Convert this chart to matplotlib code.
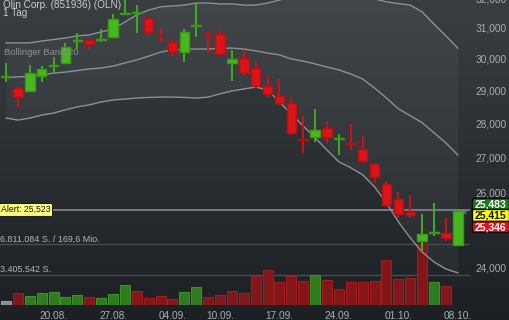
import numpy as np
import matplotlib
matplotlib.use("Agg")
import matplotlib.pyplot as plt
from matplotlib.patches import Rectangle
from matplotlib.ticker import NullLocator

plt.rcParams['font.family'] = ['Liberation Sans', 'DejaVu Sans']

# ---------------- data ----------------
dates = ["14.08.", "15.08.", "16.08.", "17.08.", "20.08.", "21.08.", "22.08.", "23.08.", "24.08.",
         "27.08.", "28.08.", "29.08.", "30.08.", "31.08.", "04.09.", "05.09.", "06.09.", "07.09.",
         "10.09.", "11.09.", "12.09.", "13.09.", "14.09.", "17.09.", "18.09.", "19.09.", "20.09.",
         "21.09.", "24.09.", "25.09.", "26.09.", "27.09.", "28.09.", "01.10.", "02.10.", "03.10.",
         "04.10.", "05.10.", "08.10."]
opens = [29.42, 29.07, 28.98, 29.45, 29.76, 29.86, 30.57, 30.60, 30.62, 30.70, 31.47, 31.50, 31.33,
         30.74, 30.54, 30.21, 31.07, 30.80, 30.80, 29.86, 30.02, 29.70, 29.14, 28.83, 28.61, 27.53,
         27.59, 27.86, 27.53, 27.41, 27.24, 26.80, 26.24, 25.82, 25.46, 24.68, 24.90, 24.90, 24.58]
highs = [29.86, 29.10, 29.80, 29.76, 30.05, 30.51, 30.84, 30.62, 30.97, 31.47, 32.00, 31.77, 31.34,
         31.03, 30.60, 30.97, 31.84, 30.87, 30.93, 30.28, 30.28, 29.92, 29.45, 29.35, 28.80, 28.22,
         28.43, 28.07, 27.68, 27.98, 27.62, 26.83, 26.32, 26.01, 25.93, 25.41, 25.71, 25.30, 25.52]
lows = [29.26, 28.49, 28.96, 29.26, 29.51, 29.84, 30.31, 30.31, 30.54, 30.68, 31.44, 30.84, 30.77,
        30.54, 30.08, 29.89, 30.70, 30.18, 30.13, 29.29, 29.45, 29.07, 28.76, 28.55, 27.65, 27.12,
        27.44, 27.41, 27.06, 27.21, 26.83, 26.26, 25.60, 25.30, 25.30, 24.39, 24.81, 24.68, 24.55]
closes = [29.45, 28.80, 29.54, 29.67, 29.80, 30.38, 30.60, 30.47, 30.64, 31.30, 31.50, 31.52, 30.87,
          30.72, 30.21, 30.87, 31.10, 30.77, 30.15, 29.99, 29.54, 29.14, 28.89, 28.61, 27.71, 27.50,
          27.80, 27.59, 27.56, 27.38, 26.89, 26.43, 25.65, 25.40, 25.38, 24.87, 24.92, 24.76, 25.483]
volumes = [480000, 1310000, 1000000, 1370000, 1420000, 930000, 1080000, 860000, 780000, 1260000,
           2200000, 1600000, 820000, 1000000, 670000, 1420000, 2040000, 860000, 1120000, 1560000,
           1370000, 3270000, 3900000, 2570000, 3240000, 2680000, 3380000, 2790000, 1790000, 2600000,
           2530000, 2680000, 5020000, 2870000, 2980000, 6811084, 2530000, 2120000]
volume_dir = ["n", "r", "g", "g", "g", "g", "g", "r", "g", "g", "g", "r", "r", "r", "r", "g", "g",
              "r", "r", "r", "r", "r", "r", "r", "r", "r", "g", "r", "r", "r", "r", "r", "r", "r",
              "r", "r", "g", "r"]
bb_upper = [30.51, 30.51, 30.51, 30.57, 30.62, 30.67, 30.74, 30.77, 30.87, 30.97, 31.20, 31.44,
            31.60, 31.71, 31.74, 31.77, 31.84, 31.84, 31.81, 31.81, 31.77, 31.77, 31.84, 31.94,
            32.08, 32.15, 32.19, 32.19, 32.15, 32.12, 32.05, 31.98, 31.88, 31.82, 31.77, 31.54,
            31.13, 30.74, 30.34]
bb_middle = [29.39, 29.42, 29.43, 29.48, 29.54, 29.57, 29.62, 29.67, 29.70, 29.76, 29.86, 29.96,
             30.08, 30.21, 30.28, 30.30, 30.31, 30.31, 30.33, 30.34, 30.31, 30.25, 30.18, 30.12,
             29.99, 29.92, 29.83, 29.73, 29.64, 29.51, 29.35, 29.07, 28.76, 28.43, 28.22, 28.01,
             27.71, 27.41, 27.06]
bb_lower = [28.15, 28.09, 28.15, 28.24, 28.30, 28.40, 28.49, 28.55, 28.64, 28.70, 28.73, 28.76,
            28.78, 28.79, 28.79, 28.78, 28.76, 28.79, 28.89, 28.98, 29.04, 29.10, 29.01, 28.64,
            28.27, 27.91, 27.56, 27.20, 26.86, 26.69, 26.49, 26.15, 25.70, 25.19, 24.76, 24.39,
            24.13, 23.95, 23.85]
date_ticks = ["20.08.", "27.08.", "04.09.", "10.09.", "17.09.", "24.09.", "01.10.", "08.10."]
price_ticks = [24, 26, 27, 28, 29, 30, 31, 32]
alert_level = 25.523
quotes = [25.483, 25.415, 25.346]
vol_max = 6811084
vol_max_text = "6.811.084 S. / 169,6 Mio."
vol_half_text = "3.405.542 S."
title = "Olin Corp. (851936) (OLN)"
period = "1 Tag"
indicator = "Bollinger Band 20"

# ---------------- layout ----------------
W, H = 510, 320
fig = plt.figure(figsize=(W / 100, H / 100), dpi=100)

def prect(x0, y0, x1, y1):
    return [x0 / W, 1 - y1 / H, (x1 - x0) / W, (y1 - y0) / H]

# background gradient
bg = fig.add_axes([0, 0, 1, 1], zorder=0)
bg.set_axis_off()
g = np.linspace(0, 1, 256)[:, None, None]
top = np.array([0x39, 0x3e, 0x42]) / 255
bot = np.array([0x1c, 0x20, 0x24]) / 255
bg.imshow(top + (bot - top) * g, extent=(0, 1, 0, 1), aspect='auto', origin='upper')
bg.set_xlim(0, 1); bg.set_ylim(0, 1)

AX = prect(0, -10, 470, 305)
x = np.arange(len(dates))
xlim = (-6 / 11.89, (470 - 6) / 11.89)
ylim = (23.044, 32.287)

# band fill layer
axb = fig.add_axes(AX, zorder=1)
axb.set_yscale('log')
axb.fill_between(x, bb_lower, bb_upper, color='white', alpha=0.045, lw=0)
axb.set_xlim(*xlim); axb.set_ylim(*ylim)
axb.set_axis_off()

# volume layer
axv = fig.add_axes(AX, zorder=2)
axv.set_facecolor('none')
vfill = {'g': '#2e7b1d', 'r': '#821619', 'n': '#8a8a8a'}
vedge = {'g': '#3c9028', 'r': '#a01c1f', 'n': '#9c9c9c'}
vx = x[:len(volumes)]
axv.bar(vx, volumes, width=0.84, color=[vfill[d] for d in volume_dir],
        edgecolor=[vedge[d] for d in volume_dir], linewidth=0.8)
axv.axhline(vol_max, color='#474c50', lw=1.0, zorder=0)
axv.axhline(vol_max / 2, color='#474c50', lw=1.0, zorder=0)
axv.text(xlim[0], vol_max, vol_max_text, color='#b4b8bb', fontsize=6.4, va='bottom', ha='left')
axv.text(xlim[0], vol_max / 2, vol_half_text, color='#b4b8bb', fontsize=6.4, va='bottom', ha='left')
axv.set_xlim(*xlim)
axv.set_ylim(0, vol_max * 315 / 61)
axv.set_axis_off()

# price layer
ax = fig.add_axes(AX, zorder=3)
ax.set_facecolor('none')
ax.set_yscale('log')
o = np.array(opens); c = np.array(closes); hi = np.array(highs); lo = np.array(lows)
up = c >= o
wick_col = np.where(up, '#3fae1a', '#cf1215')
body_col = np.where(up, '#46b81e', '#dc1418')
edge_col = np.where(up, '#389a16', '#b51013')
ax.plot(x, bb_upper, color='#8c9195', lw=1.0, zorder=2)
ax.plot(x, bb_middle, color='#8c9195', lw=1.0, zorder=2)
ax.plot(x, bb_lower, color='#8c9195', lw=1.0, zorder=2)
ax.axhline(alert_level, color='#767b7f', lw=1.4, zorder=1)
ax.vlines(x, lo, hi, colors=wick_col, lw=1.4, zorder=3)
b0 = np.minimum(o, c); b1 = np.maximum(o, c)
ax.bar(x, b1 - b0, bottom=b0, width=0.8, color=body_col, edgecolor=edge_col, linewidth=1.0, zorder=4)
ax.text(xlim[0] + 0.05, alert_level, "Alert: " + f"{alert_level:.3f}".replace('.', ','),
        fontsize=6.3, color='#111111', va='center', ha='left', zorder=6,
        bbox=dict(boxstyle='square,pad=0.18', fc='#ffff84', ec='#222222', lw=0.8))
ax.set_xlim(*xlim); ax.set_ylim(*ylim)
for s in ax.spines.values():
    s.set_visible(False)
ax.yaxis.tick_right()
ax.set_yticks(price_ticks)
ax.set_yticklabels([f"{t:.3f}".replace('.', ',') for t in price_ticks])
ax.yaxis.set_minor_locator(NullLocator())
ax.set_xticks([dates.index(d) for d in date_ticks])
ax.set_xticklabels(date_ticks)
ax.tick_params(axis='y', length=0, pad=4, labelcolor='#a9aeb2', labelsize=7.3)
ax.tick_params(axis='x', length=0, pad=4.5, labelcolor='#a9aeb2', labelsize=7.3)

# quote boxes
qstyle = [('#1c7a1c', 'white'), ('#ffff10', '#111111'), ('#e2101c', 'white')]
qy = [(198, 209), (209, 220.5), (220.5, 232)]
for q, (fc, tc), (y0, y1) in zip(quotes, qstyle, qy):
    fig.add_artist(Rectangle((472 / W, 1 - y1 / H), 37 / W, (y1 - y0) / H, transform=fig.transFigure,
                             fc=fc, ec='#0c0c0c', lw=1.0, zorder=10))
    fig.text(490.5 / W, 1 - (y0 + y1) / 2 / H, f"{q:.3f}".replace('.', ','), color=tc,
             fontsize=7.5, fontweight='bold', ha='center', va='center_baseline', zorder=11)
fig.text(465 / W, 1 - 214 / H, "≡", color='#8a8f93', fontsize=5, ha='center', va='center', zorder=11)

# header texts
fig.text(3 / W, 1 - 7.5 / H, title, color='#c9ccd0', fontsize=7.2, va='baseline', ha='left', zorder=11)
fig.text(3 / W, 1 - 16.5 / H, period, color='#c9ccd0', fontsize=7.2, va='baseline', ha='left', zorder=11)
fig.text(4 / W, 1 - 55 / H, indicator, color='#8b9094', fontsize=6.8, va='baseline', ha='left', zorder=11)

fig.savefig("out.png", dpi=100)
